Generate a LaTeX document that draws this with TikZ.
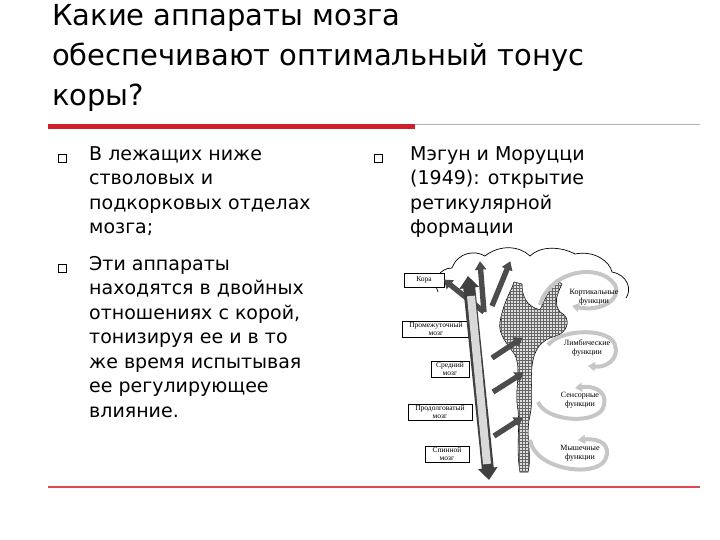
\documentclass[tikz,border=0pt]{standalone}
\usepackage{fontspec}
\setmainfont{DejaVu Sans}
\newfontfamily\serifsmall{Liberation Serif}
\usetikzlibrary{patterns,arrows.meta}
\definecolor{slidered}{HTML}{D0202A}
\tikzset{
  ttl/.style={anchor=north west,align=left,font=\fontsize{29}{40}\selectfont,inner sep=0pt},
  body/.style={anchor=north west,align=left,font=\fontsize{19}{24.5}\selectfont,inner sep=0pt},
  bul/.style={draw,minimum size=8pt,inner sep=0pt,line width=0.7pt},
  lbl/.style={draw,fill=white,font=\serifsmall\fontsize{7.5}{8}\selectfont,align=center,inner sep=1.2pt,line width=0.6pt},
  fl/.style={font=\serifsmall\fontsize{8}{8.5}\selectfont,align=center,inner sep=0pt},
  thk/.style={line width=4pt,draw=gray!45,-{Triangle[length=7pt,width=9pt]}},
  edge/.style={line width=5.4pt,draw=black!70,-{Triangle[length=8.5pt,width=11pt]},shorten >=-0.8pt},
}
\begin{document}
\begin{tikzpicture}[x=1pt,y=-1pt]
\useasboundingbox (0,0) rectangle (720,540);
\node[ttl] (title) at (52,4) {Какие аппараты мозга\\обеспечивают оптимальный тонус\\коры?};
\draw[gray!60,line width=0.8pt] (48,124) -- (700,124);
\draw[slidered,line width=5pt] (48,127) -- (415,127);
\draw[slidered!80,line width=1.2pt] (48,487) -- (700,487);
\node[bul] (b1) at (62,158) {};
\node[bul] (b2) at (62,268) {};
\node[bul] (b3) at (378,158) {};
\node[body] (t1) at (89,146) {В лежащих ниже\\стволовых и\\подкорковых отделах\\мозга;};
\node[body] (t2) at (89,256) {Эти аппараты\\находятся в двойных\\отношениях с корой,\\тонизируя ее и в то\\же время испытывая\\ее регулирующее\\влияние.};
\node[body] (t3) at (410,146) {Мэгун и Моруцци\\(1949): открытие\\ретикулярной\\формации};
% cortex outline
\draw[line width=0.7pt] (438,292) .. controls (432,280) and (440,268) .. (452,268) .. controls (458,252) and (475,250) .. (485,256) .. controls (500,244) and (520,246) .. (530,256) .. controls (540,246) and (560,246) .. (575,254) .. controls (595,250) and (610,262) .. (612,272) .. controls (628,275) and (632,290) .. (626,298);
% reticular formation blob
\path[fill=gray!25,draw=black,line width=0.6pt,postaction={pattern=grid,pattern color=black!60}]
 (500,322) .. controls (504,300) and (512,290) .. (514,282) -- (522,284) .. controls (522,296) and (526,306) .. (540,310) .. controls (546,296) and (552,286) .. (556,280) -- (562,284) .. controls (556,296) and (554,304) .. (560,312) .. controls (572,318) and (568,332) .. (556,336) .. controls (540,340) and (534,350) .. (532,366) .. controls (530,385) and (534,400) .. (529,420) .. controls (526,440) and (532,455) .. (528,472) -- (520,472) .. controls (516,450) and (520,430) .. (518,410) .. controls (514,390) and (522,370) .. (515,355) .. controls (506,342) and (498,334) .. (500,322) -- cycle;
% right functional arrows
\draw[thk] (540,305) .. controls (550,270) and (600,262) .. (615,285) .. controls (622,300) and (600,312) .. (572,306);
\draw[thk] (548,345) .. controls (560,330) and (600,328) .. (612,340) .. controls (622,352) and (612,368) .. (588,366);
\draw[thk] (538,402) .. controls (545,420) and (590,425) .. (602,410) .. controls (610,395) and (598,385) .. (575,388);
\draw[thk] (530,440) .. controls (535,470) and (595,478) .. (605,460) .. controls (612,445) and (600,438) .. (578,440);
\node[fl] (f1) at (594,297) {Кортикальные\\функции};
\node[fl] (f2) at (587,348) {Лимбические\\функции};
\node[fl] (f3) at (580,400) {Сенсорные\\функции};
\node[fl] (f4) at (580,453) {Мышечные\\функции};
% labels
\node[lbl,minimum width=40pt,minimum height=14pt] (kora) at (424,280) {Кора};
\node[lbl,minimum width=68pt] (pm) at (436,329) {Промежуточный\\мозг};
\node[lbl,minimum width=38pt] (sm) at (450,369) {Средний\\мозг};
\node[lbl,minimum width=64pt] (prm) at (440,412) {Продолговатый\\мозг};
\node[lbl,minimum width=44pt] (spm) at (447,454) {Спинной\\мозг};
% ascending system
\coordinate (bot) at (489,480);
\coordinate (top) at (468,276);
\coordinate (c1) at (492,358);
\coordinate (c2) at (493,392);
\coordinate (c3) at (494,436);
\coordinate (c4) at (484,312);
\coordinate (c5) at (492,306);
\draw[edge] (c1) -- (522,338);
\draw[edge] (c2) -- (523,373);
\draw[edge] (c3) -- (522,418);
\draw[edge] (c4) -- (480,262);
\draw[edge] (c5) -- (510,262);
\draw[edge] (c4) -- (kora.east);
\draw[line width=12pt,draw=black!75,{Triangle[length=12pt,width=19pt]}-{Triangle[length=12pt,width=19pt]}] (top) -- (bot);
\draw[line width=8pt,draw=gray!30] (471,296) -- (487,464);
\end{tikzpicture}
\end{document}
